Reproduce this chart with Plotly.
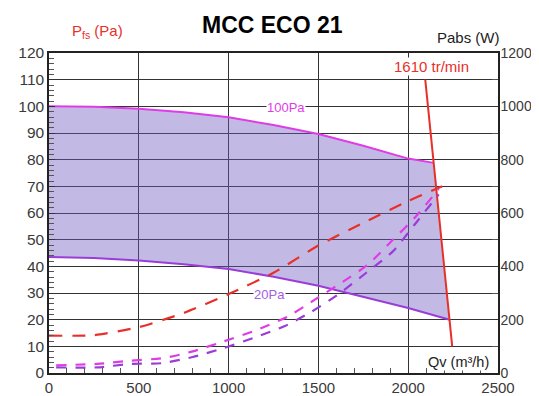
import plotly.graph_objects as go

# ---- data ----
q_100pa = [0, 250, 500, 750, 1000, 1250, 1500, 1750, 2000, 2142]
p_100pa = [100, 99.8, 99.1, 97.8, 95.9, 93.0, 89.6, 85.2, 80.4, 78.8]

q_20pa = [0, 250, 500, 750, 1000, 1250, 1500, 1750, 2000, 2231]
p_20pa = [43.5, 43.1, 42.2, 40.8, 39.0, 36.1, 32.7, 28.6, 24.4, 20.0]

q_speed = [2095, 2245]
p_speed = [110, 10]

q_pow_red = [0, 250, 500, 750, 1000, 1250, 1500, 1750, 2000, 2190]
w_pow_red = [140, 142, 172, 225, 296, 376, 478, 563, 645, 700]

q_pow_mag = [40, 270, 450, 640, 800, 975, 1160, 1330, 1480, 1625, 1775, 1915, 2035, 2170]
w_pow_mag = [29, 34, 46, 56, 81, 119, 162, 212, 275, 337, 406, 500, 581, 690]

q_pow_pur = [40, 270, 450, 630, 800, 975, 1160, 1310, 1465, 1615, 1765, 1915, 2035, 2170]
w_pow_pur = [21, 21, 34, 37, 60, 94, 137, 175, 231, 297, 375, 456, 556, 670]

RED = "#e8302a"
MAG = "#e03ce6"
PUR = "#9a3cd8"

fig = go.Figure()

# shaded operating zone
fig.add_trace(go.Scatter(
    x=q_100pa + q_20pa[::-1], y=p_100pa + p_20pa[::-1],
    fill="toself", fillcolor="rgba(110,90,190,0.42)",
    line=dict(width=0), mode="lines",
    hoverinfo="skip", showlegend=False))

fig.add_trace(go.Scatter(x=q_100pa, y=p_100pa, mode="lines",
                         line=dict(color=MAG, width=2), showlegend=False))
fig.add_trace(go.Scatter(x=q_20pa, y=p_20pa, mode="lines",
                         line=dict(color=PUR, width=2), showlegend=False))
fig.add_trace(go.Scatter(x=q_speed, y=p_speed, mode="lines",
                         line=dict(color=RED, width=2), showlegend=False))

fig.add_trace(go.Scatter(x=q_pow_red, y=w_pow_red, yaxis="y2", mode="lines",
                         line=dict(color=RED, width=2.2, dash="13px,10px", shape="spline", smoothing=0.6),
                         showlegend=False))
fig.add_trace(go.Scatter(x=q_pow_mag, y=w_pow_mag, yaxis="y2", mode="lines",
                         line=dict(color=MAG, width=2.2, dash="10px,9px", shape="spline", smoothing=0.6),
                         showlegend=False))
fig.add_trace(go.Scatter(x=q_pow_pur, y=w_pow_pur, yaxis="y2", mode="lines",
                         line=dict(color=PUR, width=2.2, dash="10px,9px", shape="spline", smoothing=0.6),
                         showlegend=False))

fontf = "Liberation Sans, Arial, sans-serif"
tickfont = dict(family=fontf, size=15, color="#3a3a3a")

fig.update_layout(
    width=539, height=396,
    margin=dict(l=41, r=49, t=45, b=31, autoexpand=False),
    paper_bgcolor="white", plot_bgcolor="white",
    showlegend=False,
    xaxis=dict(range=[0, 2500], dtick=500, tick0=0, showgrid=True,
               gridcolor="#333333", gridwidth=1.3, automargin=False,
               ticks="inside", ticklen=6, tickcolor="#333",
               minor=dict(dtick=100, ticks="inside", ticklen=5, tickcolor="#555", showgrid=False),
               showline=True, linecolor="#222", linewidth=1.5, mirror=True,
               zeroline=False, tickfont=tickfont),
    yaxis=dict(range=[0, 120], dtick=10, tick0=0, showgrid=True,
               gridcolor="#333333", gridwidth=1.3, automargin=False,
               ticks="inside", ticklen=6, tickcolor="#333",
               minor=dict(dtick=2, ticks="inside", ticklen=5, tickcolor="#555", showgrid=False),
               showline=True, linecolor="#222", linewidth=1.5, mirror=True,
               zeroline=False, tickfont=dict(family=fontf, size=15.5, color="#3a3a3a")),
    yaxis2=dict(range=[0, 1200], dtick=200, tick0=0, overlaying="y", side="right",
                showgrid=False, ticks="inside", ticklen=6, tickcolor="#333", automargin=False,
                minor=dict(dtick=100, ticks="inside", ticklen=6, tickcolor="#555"),
                showline=True, linecolor="#222", linewidth=1.5, ticklabelstandoff=-2,
                zeroline=False, tickfont=dict(family=fontf, size=14, color="#3a3a3a")),
)

fig.add_annotation(xref="paper", yref="paper", x=0.497, y=1.088,
                   xanchor="center", yanchor="middle",
                   text="<b>MCC ECO 21</b>", showarrow=False,
                   font=dict(family=fontf, size=23, color="black"))
fig.add_annotation(xref="paper", yref="paper", x=0.107, y=1.066,
                   xanchor="center", yanchor="middle",
                   text="P<sub>fs</sub> (Pa)", showarrow=False,
                   font=dict(family=fontf, size=15, color=RED))
fig.add_annotation(xref="paper", yref="paper", x=0.934, y=1.048,
                   xanchor="center", yanchor="middle",
                   text="Pabs (W)", showarrow=False,
                   font=dict(family=fontf, size=15, color="#222"))
fig.add_annotation(x=1318, y=99.6, text="100Pa", showarrow=False,
                   bgcolor="white", borderpad=0,
                   font=dict(family=fontf, size=13, color=MAG))
fig.add_annotation(x=1225, y=29.4, text="20Pa", showarrow=False,
                   bgcolor="white", borderpad=0,
                   font=dict(family=fontf, size=13, color="#a45ee0"))
fig.add_annotation(x=2128, y=114.8, text="1610 tr/min", showarrow=False,
                   bgcolor="white", borderpad=0,
                   font=dict(family=fontf, size=15, color=RED))
fig.add_annotation(x=2279, y=4.3, text="Qv (m³/h)", showarrow=False,
                   bgcolor="white", borderpad=0,
                   font=dict(family=fontf, size=14.5, color="#222"))

fig.write_html("out.html")
